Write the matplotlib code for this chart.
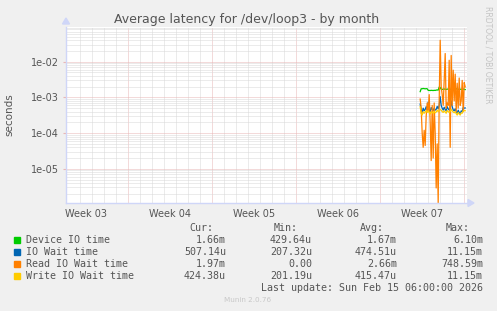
import numpy as np
import matplotlib
matplotlib.use("Agg")
import matplotlib.pyplot as plt
from matplotlib.ticker import FixedLocator, NullFormatter

# ---------------- data ----------------
title = "Average latency for /dev/loop3 - by month"
week_labels = ["Week 03", "Week 04", "Week 05", "Week 06", "Week 07"]
week_centers = [1.67, 8.67, 15.67, 22.67, 29.67]     # days from graph start
week_bounds = [5.17, 12.17, 19.17, 26.17, 33.17]     # red major grid (days)
x_span_days = 33.4
data_start_day = 29.5
step_hours = 2.0

device_io = [1.45e-3, 1.75e-3, 1.75e-3, 1.78e-3, 1.76e-3, 1.74e-3, 1.76e-3, 1.75e-3,
             1.58e-3, 1.57e-3, 1.56e-3, 1.58e-3, 1.57e-3, 1.56e-3, 1.58e-3, 1.57e-3,
             1.6e-3, 1.62e-3, 1.6e-3, 1.95e-3, 1.9e-3, 1.7e-3, 1.68e-3, 1.7e-3,
             1.72e-3, 1.7e-3, 1.68e-3, 1.7e-3, 1.72e-3, 1.7e-3, 1.69e-3, 1.7e-3,
             1.72e-3, 1.7e-3, 1.68e-3, 1.7e-3, 1.75e-3, 1.7e-3, 1.68e-3, 1.72e-3,
             1.7e-3, 1.68e-3, 1.7e-3, 1.72e-3, 1.68e-3, 1.66e-3]
io_wait = [6.5e-4, 4.5e-4, 3.8e-4, 5.0e-4, 4.2e-4, 4.6e-4, 5.5e-4, 4.4e-4,
           7.4e-4, 4.5e-4, 4.0e-4, 5.2e-4, 4.6e-4, 4.3e-4, 5.0e-4, 4.4e-4,
           4.6e-4, 5.6e-4, 4.8e-4, 6.0e-4, 1.05e-3, 6.0e-4, 5.0e-4, 4.4e-4,
           5.3e-4, 4.6e-4, 4.2e-4, 5.5e-4, 4.8e-4, 4.4e-4, 5.0e-4, 8.0e-4,
           5.5e-4, 4.5e-4, 4.2e-4, 4.8e-4, 4.0e-4, 3.6e-4, 4.4e-4, 3.8e-4,
           3.5e-4, 4.2e-4, 4.0e-4, 5.2e-4, 5.0e-4, 5.07e-4]
read_io_wait = [9e-4, 5e-4, 1e-4, 4e-5, 1.2e-4, 4.5e-5, 3e-4, 7e-4,
                4e-4, 1.2e-3, 2e-4, 1.7e-5, 6e-4, 2e-5, 7e-4, 1e-4,
                2.9e-6, 5e-5, 0.0, 8e-4, 4e-2, 2e-3, 1.2e-3, 6e-4,
                3e-3, 1.7e-2, 5e-4, 7e-4, 6e-4, 1.1e-2, 4e-5, 1.5e-2,
                6e-4, 5.8e-3, 8e-4, 4.5e-3, 4e-4, 2.5e-3, 5e-4, 3.5e-3,
                6e-4, 8e-4, 3e-3, 4e-4, 2.6e-3, 1.97e-3]
write_io_wait = [5.5e-4, 3.5e-4, 3.2e-4, 4.0e-4, 3.6e-4, 3.9e-4, 4.3e-4, 3.8e-4,
                 4.2e-4, 3.7e-4, 3.4e-4, 4.0e-4, 3.8e-4, 3.6e-4, 4.1e-4, 3.7e-4,
                 3.9e-4, 4.4e-4, 4.0e-4, 4.3e-4, 4.6e-4, 4.4e-4, 4.0e-4, 3.8e-4,
                 4.2e-4, 3.9e-4, 3.6e-4, 4.3e-4, 4.0e-4, 3.8e-4, 4.1e-4, 4.6e-4,
                 4.2e-4, 3.9e-4, 3.7e-4, 4.0e-4, 3.5e-4, 3.2e-4, 3.8e-4, 3.4e-4,
                 3.2e-4, 3.7e-4, 3.6e-4, 4.2e-4, 4.3e-4, 4.24e-4]

series_names = ["Device IO time", "IO Wait time", "Read IO Wait time", "Write IO Wait time"]
series_colors = ["#00cc00", "#0066b3", "#ff8000", "#ffcc00"]
cur_vals = ["1.66m", "507.14u", "1.97m", "424.38u"]
min_vals = ["429.64u", "207.32u", "0.00", "201.19u"]
avg_vals = ["1.67m", "474.51u", "2.66m", "415.47u"]
max_vals = ["6.10m", "11.15m", "748.59m", "11.15m"]
last_update = "Last update: Sun Feb 15 06:00:00 2026"
version = "Munin 2.0.76"
ylim = (1.1e-6, 9.4e-2)

# ---------------- figure ----------------
W, H = 497, 311
fig = plt.figure(figsize=(W / 100, H / 100), dpi=100, facecolor="#f0f0f0")
L, R, T, B = 66, 467, 27, 203
ax = fig.add_axes([L / W, 1 - B / H, (R - L) / W, (B - T) / H], facecolor="white")
ax.set_yscale("log")
ax.set_ylim(*ylim)
ax.set_xlim(0, x_span_days)

# grid
minor_col = "#d9d9d9"
major_col = "#e9b6b6"
dots = (0, (1, 1))
gkw = dict(lw=0.72, ls=dots, zorder=1)
for d in np.arange(1, x_span_days, 1.0) + 0.17:
    if min(abs(d - wb) for wb in week_bounds) > 0.3:
        ax.axvline(d, color=minor_col, **gkw)
for wb in week_bounds:
    ax.axvline(wb, color=major_col, **gkw)
for e in range(-6, -1):
    for m in range(2, 10):
        ax.axhline(m * 10.0 ** e, color=minor_col, **gkw)
    ax.axhline(10.0 ** e, color=major_col, **gkw)

# data
n = len(device_io)
t = data_start_day + np.arange(n) * step_hours / 24.0
floor = ylim[0]
for vals, col in zip([device_io, io_wait, read_io_wait, write_io_wait], series_colors):
    ax.plot(t, np.maximum(np.asarray(vals), floor), color=col, lw=0.9, zorder=3)

# axes styling
for s in ["top", "right"]:
    ax.spines[s].set_visible(False)
axis_col = "#cfd6f8"
for s in ["left", "bottom"]:
    ax.spines[s].set_color(axis_col)
    ax.spines[s].set_linewidth(1)
    ax.spines[s].set_zorder(4)
# arrows
fig.patches.append(matplotlib.patches.Polygon(
    [[(L - 3.5) / W, 1 - (T - 3) / H], [(L + 3.5) / W, 1 - (T - 3) / H], [L / W, 1 - (T - 9) / H]],
    closed=True, transform=fig.transFigure, color=axis_col))
fig.patches.append(matplotlib.patches.Polygon(
    [[(R + 1) / W, 1 - (B - 3.5) / H], [(R + 1) / W, 1 - (B + 3.5) / H], [(R + 7) / W, 1 - B / H]],
    closed=True, transform=fig.transFigure, color=axis_col))

ax.yaxis.set_major_locator(FixedLocator([1e-5, 1e-4, 1e-3, 1e-2]))
ax.yaxis.set_minor_locator(FixedLocator([]))
ax.yaxis.set_minor_formatter(NullFormatter())
ax.set_yticklabels(["1e-05", "1e-04", "1e-03", "1e-02"])
ax.tick_params(axis="y", which="both", length=2, color=major_col, labelsize=7, labelcolor="#555555", pad=3)
ax.set_xticks(week_centers)
ax.set_xticklabels(week_labels)
ax.tick_params(axis="x", length=0, labelsize=7, labelcolor="#555555", pad=4)
ax.set_ylabel("seconds", fontsize=7.5, color="#555555", labelpad=12)

fig.text(247 / W, 1 - 19 / H, title, ha="center", va="center", fontsize=9, color="#555555")
fig.text(488 / W, 1 - 6 / H, "RRDTOOL / TOBI OETIKER", rotation=270, ha="center", va="top",
         fontsize=5.5, color="#c4c4c4")

# legend
mono = "DejaVu Sans Mono"
fs = 7.2
tc = "#555555"
hy = 228
for txt, xr in zip(["Cur:", "Min:", "Avg:", "Max:"], [213, 298, 384, 470]):
    fig.text(xr / W, 1 - hy / H, txt, ha="right", va="center", family=mono, fontsize=fs, color=tc)
row_y = [240, 252, 264, 276]
for i in range(4):
    yy = 1 - row_y[i] / H
    fig.patches.append(matplotlib.patches.Rectangle((14 / W, yy - 3 / H), 6 / W, 6 / H,
                                                    transform=fig.transFigure, color=series_colors[i]))
    fig.text(26 / W, yy, series_names[i], ha="left", va="center", family=mono, fontsize=fs, color=tc)
    for v, xr in zip([cur_vals[i], min_vals[i], avg_vals[i], max_vals[i]], [226, 312, 397, 483]):
        fig.text(xr / W, yy, v, ha="right", va="center", family=mono, fontsize=fs, color=tc)
fig.text(483 / W, 1 - 288 / H, last_update, ha="right", va="center", family=mono, fontsize=fs, color=tc)
fig.text(248 / W, 1 - 300 / H, version, ha="center", va="center", fontsize=5.2, color="#c8c8c8")

fig.savefig("out.png", dpi=100, facecolor=fig.get_facecolor())
